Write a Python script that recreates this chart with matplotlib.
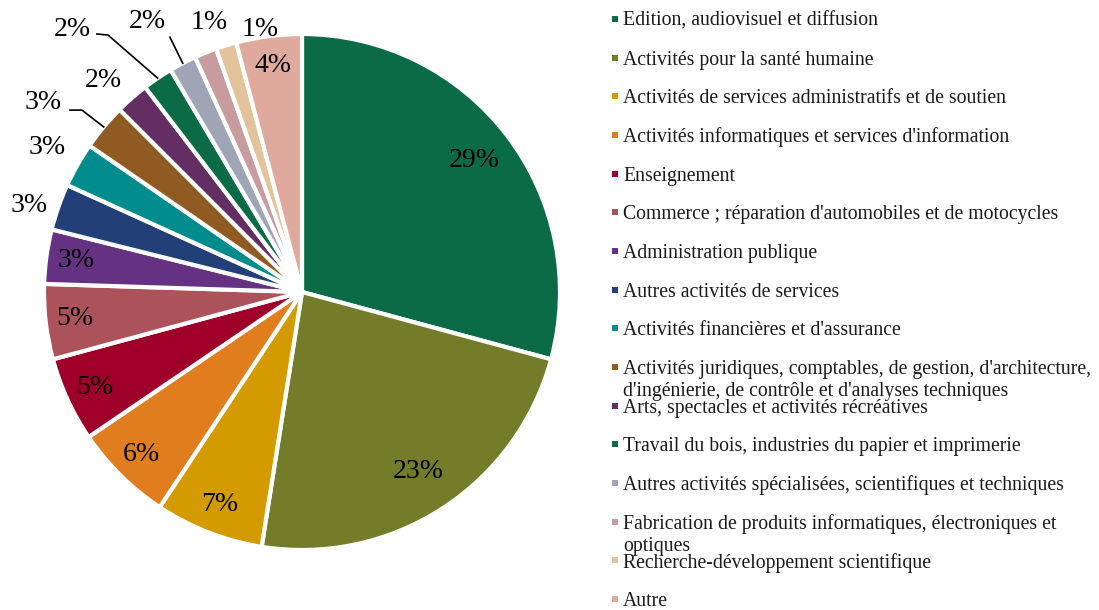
import numpy as np
import matplotlib.pyplot as plt
from matplotlib.patches import Rectangle

plt.rcParams["font.family"] = ["Liberation Serif", "DejaVu Serif"]

sectors = [
    "Edition, audiovisuel et diffusion",
    "Activités pour la santé humaine",
    "Activités de services administratifs et de soutien",
    "Activités informatiques et services d'information",
    "Enseignement",
    "Commerce ; réparation d'automobiles et de motocycles",
    "Administration publique",
    "Autres activités de services",
    "Activités financières et d'assurance",
    "Activités juridiques, comptables, de gestion, d'architecture,\nd'ingénierie, de contrôle et d'analyses techniques",
    "Arts, spectacles et activités récréatives",
    "Travail du bois, industries du papier et imprimerie",
    "Autres activités spécialisées, scientifiques et techniques",
    "Fabrication de produits informatiques, électroniques et\noptiques",
    "Recherche-développement scientifique",
    "Autre",
]
shares = [29.2, 23.3, 6.8, 6.2, 5.3, 4.7, 3.4, 2.9, 2.8, 2.9, 2.1, 1.9, 1.7, 1.4, 1.3, 4.1]
colors = [
    "#0b6b47", "#737c28", "#d49b00", "#e07d1e", "#9e0029", "#ac525b",
    "#653283", "#233f78", "#008c8c", "#8f5b22", "#632f63", "#0b6b47",
    "#a0a5b5", "#c89b9f", "#e2c39b", "#e0a99e",
]

# label placement: radial distance for labels inside the pie,
# explicit (x, y) in pie units for the ones pushed outside
inside_r = {0: 0.84, 1: 0.83}
outside_pos = {
    7: (-1.058, 0.337),
    8: (-0.988, 0.562),
    9: (-1.004, 0.733),
    10: (-0.771, 0.818),
    11: (-0.891, 1.019),
    12: (-0.601, 1.047),
    13: (-0.360, 1.043),
    14: (-0.163, 1.019),
}
# leader lines: points near the label, then to the wedge edge
leaders = {
    9: [(-0.899, 0.705), (-0.853, 0.705)],
    11: [(-0.795, 1.0), (-0.752, 0.996)],
    12: [(-0.512, 0.988)],
}

W, H = 1099, 610
fig = plt.figure(figsize=(W / 100, H / 100), dpi=100)
cx, cy, R = 302, 292, 258
ax = fig.add_axes([(cx - R) / W, (H - cy - R) / H, 2 * R / W, 2 * R / H])

wedges, _ = ax.pie(
    shares,
    colors=colors,
    startangle=90,
    counterclock=False,
    radius=1,
    wedgeprops=dict(edgecolor="white", linewidth=3),
)
ax.set_xlim(-1, 1)
ax.set_ylim(-1, 1)
ax.set_aspect("equal")
ax.axis("off")

for i, (w, v) in enumerate(zip(wedges, shares)):
    mid = np.deg2rad((w.theta1 + w.theta2) / 2)
    label = f"{v:.0f}%"
    if i in outside_pos:
        x, y = outside_pos[i]
        ax.text(x, y, label, ha="center", va="center", fontsize=20, clip_on=False)
        if i in leaders:
            pts = leaders[i] + [(np.cos(mid), np.sin(mid))]
            xs, ys = zip(*pts)
            ax.plot(xs, ys, color="black", linewidth=1.2, clip_on=False)
    else:
        r = inside_r.get(i, 0.885)
        ax.text(r * np.cos(mid), r * np.sin(mid), label, ha="center", va="center", fontsize=20)

# legend drawn as a column of squares and labels
row0, step, line_h = 19, 38.67, 22
for k, (name, c) in enumerate(zip(sectors, colors)):
    y = row0 + k * step
    fig.patches.append(
        Rectangle((611.5 / W, (H - y - 3) / H), 6 / W, 6 / H,
                  transform=fig.transFigure, facecolor=c, edgecolor="none")
    )
    for j, line in enumerate(name.split("\n")):
        fig.text(623 / W, (H - y - j * line_h) / H, line, fontsize=14.2,
                 ha="left", va="center_baseline", color="#1a1a1a")

fig.savefig("out.png", dpi=100)
